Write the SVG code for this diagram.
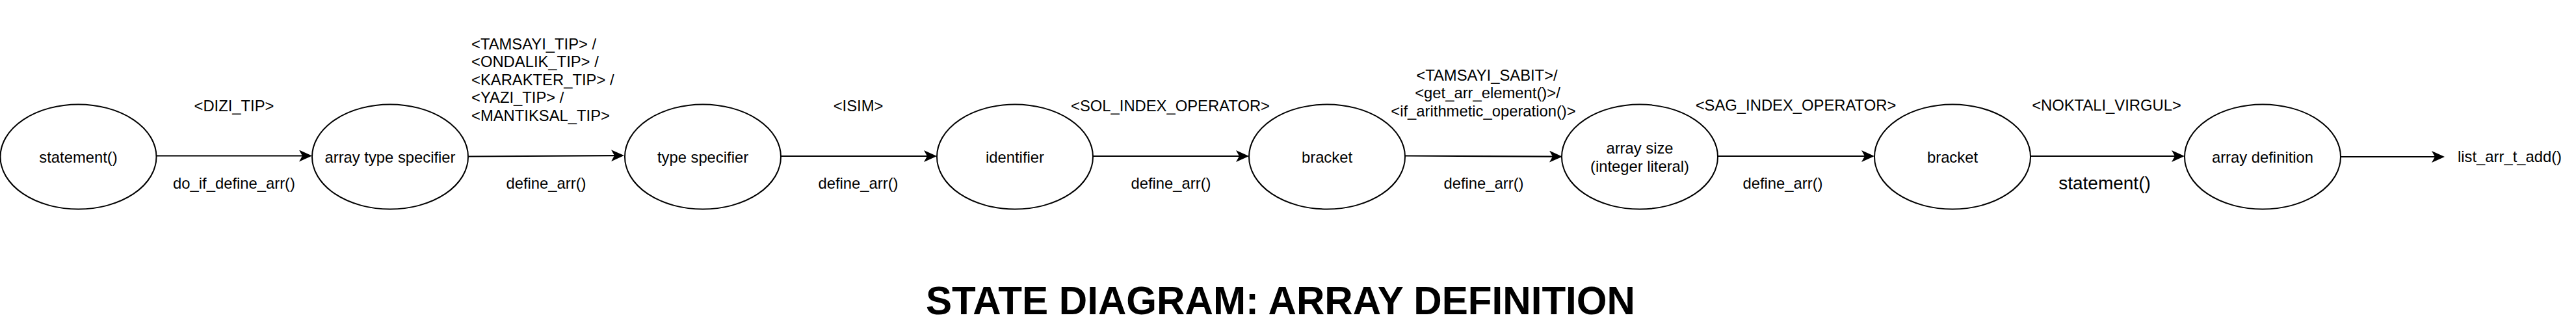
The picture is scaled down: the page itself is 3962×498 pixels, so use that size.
<svg xmlns="http://www.w3.org/2000/svg" width="3962" height="498" viewBox="0 0 3962 498">
<style>
  text { font-family: "Liberation Sans", Arial, Helvetica, sans-serif; fill: #000; }
  .lbl { font-size: 23.8px; }
  .mid { text-anchor: middle; }
  .state ellipse { fill: #fff; stroke: #000; stroke-width: 2; }
  .edge { stroke: #000; stroke-width: 2.2; fill: none; marker-end: url(#arr); }
  .title { font-size: 62px; font-weight: bold; text-anchor: middle; }
</style>
<defs>
  <marker id="arr" viewBox="0 0 20 18" markerWidth="20" markerHeight="18" markerUnits="userSpaceOnUse" refX="5" refY="9" orient="auto">
    <path d="M0,0 L20,9 L0,18 L5,9 Z" fill="#000"/>
  </marker>
</defs>
<rect width="3962" height="498" fill="#fff"/>

<g id="connectors">
  <line class="edge" x1="241" y1="239.5" x2="465" y2="239.5"/>
  <line class="edge" x1="721" y1="240.5" x2="945" y2="239.1"/>
  <line class="edge" x1="1201" y1="240" x2="1426" y2="240"/>
  <line class="edge" x1="1681" y1="240" x2="1906" y2="240"/>
  <line class="edge" x1="2161" y1="239.5" x2="2388" y2="240.6"/>
  <line class="edge" x1="2642" y1="240" x2="2868" y2="240"/>
  <line class="edge" x1="3123" y1="240" x2="3345" y2="240"/>
  <line class="edge" x1="3600" y1="241" x2="3745" y2="241"/>

  <text class="lbl mid" x="360" y="171">&lt;DIZI_TIP&gt;</text>
  <text class="lbl mid" x="360" y="290">do_if_define_arr()</text>

  <text class="lbl" x="725" y="75.5">&lt;TAMSAYI_TIP&gt; /</text>
  <text class="lbl" x="725" y="103">&lt;ONDALIK_TIP&gt; /</text>
  <text class="lbl" x="725" y="130.5">&lt;KARAKTER_TIP&gt; /</text>
  <text class="lbl" x="725" y="158">&lt;YAZI_TIP&gt; /</text>
  <text class="lbl" x="725" y="185.5">&lt;MANTIKSAL_TIP&gt;</text>
  <text class="lbl mid" x="840" y="290">define_arr()</text>

  <text class="lbl mid" x="1320" y="171">&lt;ISIM&gt;</text>
  <text class="lbl mid" x="1320" y="290">define_arr()</text>

  <text class="lbl mid" x="1800" y="171">&lt;SOL_INDEX_OPERATOR&gt;</text>
  <text class="lbl mid" x="1801" y="290">define_arr()</text>

  <text class="lbl mid" x="2287" y="123.5">&lt;TAMSAYI_SABIT&gt;/</text>
  <text class="lbl mid" x="2288" y="151">&lt;get_arr_element()&gt;/</text>
  <text class="lbl mid" x="2281.5" y="178.5">&lt;if_arithmetic_operation()&gt;</text>
  <text class="lbl mid" x="2282" y="290">define_arr()</text>

  <text class="lbl mid" x="2762" y="170">&lt;SAG_INDEX_OPERATOR&gt;</text>
  <text class="lbl mid" x="2742" y="290">define_arr()</text>

  <text class="lbl mid" x="3240" y="170">&lt;NOKTALI_VIRGUL&gt;</text>
  <text class="mid" x="3237" y="291" font-size="28">statement()</text>

  <text class="lbl" x="3780" y="249">list_arr_t_add()</text>
</g>

<g id="n1" class="state">
  <ellipse cx="120.5" cy="241" rx="120" ry="80.5"/>
  <text class="lbl mid" x="120.5" y="250">statement()</text>
</g>
<g id="n2" class="state">
  <ellipse cx="600" cy="241" rx="120" ry="80.5"/>
  <text class="lbl mid" x="600" y="250">array type specifier</text>
</g>
<g id="n3" class="state">
  <ellipse cx="1081" cy="241" rx="120" ry="80.5"/>
  <text class="lbl mid" x="1081" y="250">type specifier</text>
</g>
<g id="n4" class="state">
  <ellipse cx="1561" cy="241" rx="120" ry="80.5"/>
  <text class="lbl mid" x="1561" y="250">identifier</text>
</g>
<g id="n5" class="state">
  <ellipse cx="2041" cy="241" rx="120" ry="80.5"/>
  <text class="lbl mid" x="2041" y="250">bracket</text>
</g>
<g id="n6" class="state">
  <ellipse cx="2522" cy="241" rx="120" ry="80.5"/>
  <text class="lbl mid" x="2522" y="236">array size</text>
  <text class="lbl mid" x="2522" y="264">(integer literal)</text>
</g>
<g id="n7" class="state">
  <ellipse cx="3003" cy="241" rx="120" ry="80.5"/>
  <text class="lbl mid" x="3003" y="250">bracket</text>
</g>
<g id="n8" class="state">
  <ellipse cx="3480" cy="241" rx="120" ry="80.5"/>
  <text class="lbl mid" x="3480" y="250">array definition</text>
</g>

<text class="title" x="1969.5" y="483" textLength="1091" lengthAdjust="spacingAndGlyphs">STATE DIAGRAM: ARRAY DEFINITION</text>
</svg>
